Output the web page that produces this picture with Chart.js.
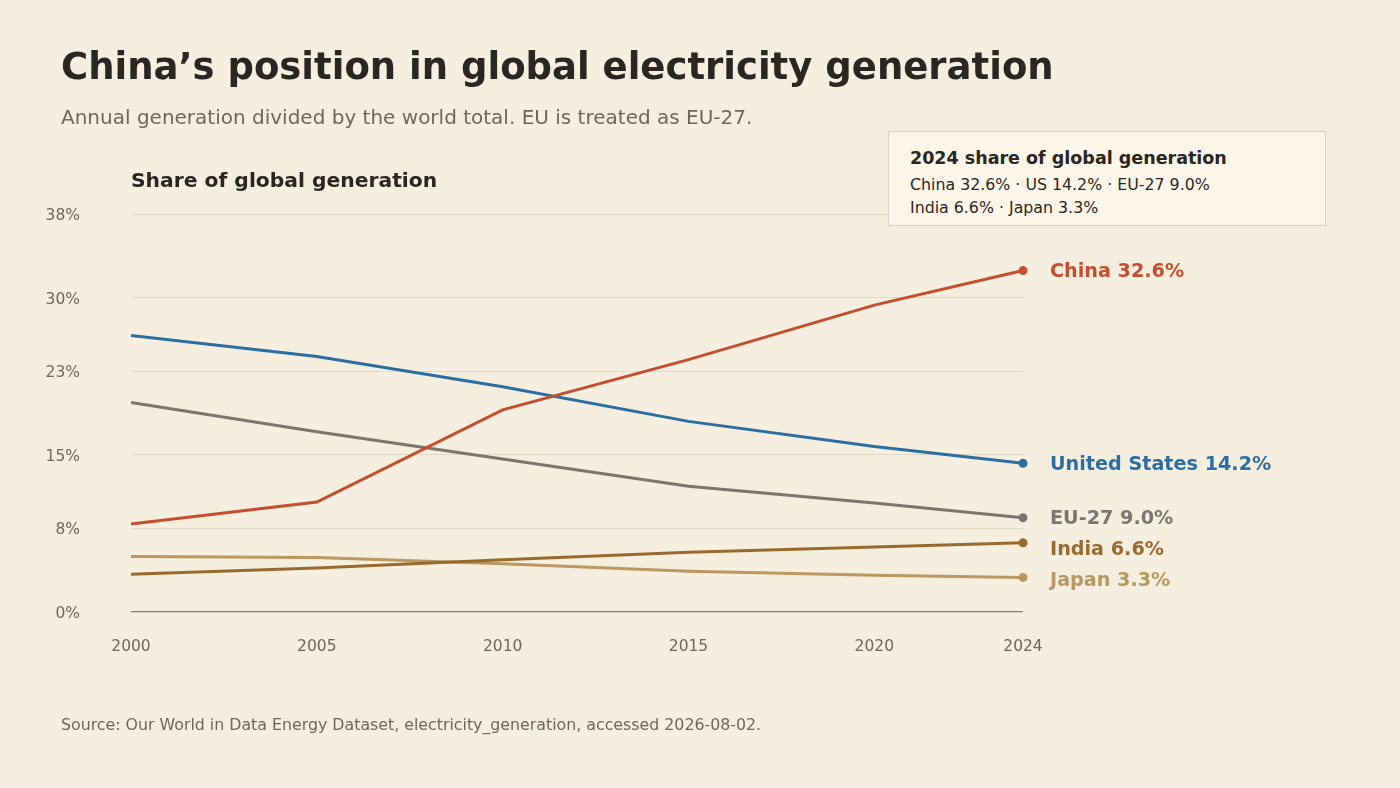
<!DOCTYPE html>
<html>
<head>
<meta charset="utf-8">
<script src="https://cdn.jsdelivr.net/npm/chart.js@4.4.1/dist/chart.umd.min.js"></script>
<style>
  html, body { margin: 0; padding: 0; background: #f6efdf; }
  body { width: 1400px; height: 788px; position: relative; overflow: hidden; font-family: "DejaVu Sans", sans-serif; }
  #c { position: absolute; left: 0; top: 0; }
  .t { position: absolute; white-space: nowrap; line-height: 1.2; }
  #title { left: 61px; top: 45px; font-size: 37px; font-weight: bold; color: #2a2622; }
  #subtitle { left: 61px; top: 105px; font-size: 20px; color: #6e665b; }
  #ytitle { left: 131px; top: 168px; font-size: 20.3px; font-weight: bold; color: #2a2622; }
  #source { left: 61px; top: 715.5px; font-size: 15.8px; color: #6e665b; }
  #box { position: absolute; left: 888px; top: 131px; width: 436px; height: 93px; background: #fdf6e8; border: 1px solid #dcd2c0; }
  #box .bt { position: absolute; left: 21px; top: 15.5px; font-size: 17.5px; font-weight: bold; color: #2a2622; white-space: nowrap; line-height: 1.2; }
  #box .bl { position: absolute; left: 21px; font-size: 15.8px; color: #2a2622; white-space: nowrap; line-height: 1.2; }
</style>
</head>
<body>
<canvas id="c" width="1400" height="788"></canvas>
<div class="t" id="title">China’s position in global electricity generation</div>
<div class="t" id="subtitle">Annual generation divided by the world total. EU is treated as EU-27.</div>
<div class="t" id="ytitle">Share of global generation</div>
<div class="t" id="source">Source: Our World in Data Energy Dataset, electricity_generation, accessed 2026-08-02.</div>
<div id="box">
  <div class="bt">2024 share of global generation</div>
  <div class="bl" style="top:43.5px">China 32.6% · US 14.2% · EU-27 9.0%</div>
  <div class="bl" style="top:66.5px">India 6.6% · Japan 3.3%</div>
</div>
<script>
// ---- data ----
const years = [2000, 2005, 2010, 2015, 2020, 2024];
const china = [8.4, 10.5, 19.3, 24.1, 29.3, 32.6];
const unitedStates = [26.4, 24.4, 21.5, 18.2, 15.8, 14.2];
const eu27 = [20.0, 17.2, 14.6, 12.0, 10.4, 9.0];
const india = [3.6, 4.2, 5.0, 5.7, 6.2, 6.6];
const japan = [5.3, 5.2, 4.6, 3.9, 3.5, 3.3];
const yTicks = [0, 8, 15, 23, 30, 38];
const xTicks = [2000, 2005, 2010, 2015, 2020, 2024];
const seriesNames = ["China", "United States", "EU-27", "India", "Japan"];
const seriesColors = ["#c44e2e", "#2d6ea2", "#7b7770", "#9a6a2d", "#b9975f"];
const seriesValues = [china, unitedStates, eu27, india, japan];

const FONT = "'DejaVu Sans', sans-serif";
const lastIdx = years.length - 1;

const datasets = seriesNames.map((name, i) => ({
  label: name,
  data: years.map((y, j) => ({ x: y, y: seriesValues[i][j] })),
  borderColor: seriesColors[i],
  backgroundColor: seriesColors[i],
  borderWidth: 3,
  tension: 0,
  pointRadius: ctx => ctx.dataIndex === lastIdx ? 4.5 : 0,
  pointHoverRadius: ctx => ctx.dataIndex === lastIdx ? 4.5 : 0,
  pointBorderWidth: 0,
  clip: false
}));

const endLabels = {
  id: 'endLabels',
  afterDatasetsDraw(chart) {
    const ctx = chart.ctx;
    const ys = chart.scales.y;
    const xs = chart.scales.x;
    const items = seriesNames.map((n, i) => ({
      text: n + ' ' + seriesValues[i][lastIdx].toFixed(1) + '%',
      color: seriesColors[i],
      y: ys.getPixelForValue(seriesValues[i][lastIdx])
    })).sort((a, b) => a.y - b.y);
    const gap = 31;
    for (let k = 1; k < items.length; k++) {
      if (items[k].y < items[k - 1].y + gap) items[k].y = items[k - 1].y + gap;
    }
    ctx.save();
    ctx.font = 'bold 19.2px ' + FONT;
    ctx.textBaseline = 'middle';
    ctx.textAlign = 'left';
    const x0 = xs.getPixelForValue(xTicks[xTicks.length - 1]) + 27;
    items.forEach(it => {
      ctx.fillStyle = it.color;
      ctx.fillText(it.text, x0, it.y + 1.5);
    });
    ctx.restore();
  }
};

new Chart(document.getElementById('c'), {
  type: 'line',
  data: { datasets },
  options: {
    responsive: false,
    animation: false,
    events: [],
    layout: { padding: { left: 0, top: 214, right: 377, bottom: 0 } },
    plugins: { legend: { display: false }, tooltip: { enabled: false } },
    scales: {
      x: {
        type: 'linear',
        min: 2000, max: 2024,
        afterBuildTicks: s => { s.ticks = xTicks.map(v => ({ value: v })); },
        afterFit: s => { s.height = 176; },
        grid: { display: false, drawTicks: false },
        border: { display: false },
        ticks: {
          padding: 26,
          maxRotation: 0,
          autoSkip: false,
          color: '#6e665b',
          font: { family: FONT, size: 15.5 },
          callback: v => String(v)
        }
      },
      y: {
        min: 0, max: 38,
        afterBuildTicks: s => { s.ticks = yTicks.map(v => ({ value: v })); },
        afterFit: s => { s.width = 131; },
        grid: {
          drawTicks: false,
          color: ctx => ctx.tick && ctx.tick.value === 0 ? '#8a7f72' : '#e2d8c6',
          lineWidth: ctx => ctx.tick && ctx.tick.value === 0 ? 1.3 : 1
        },
        border: { display: false },
        ticks: {
          padding: 51,
          labelOffset: 2,
          color: '#6e665b',
          font: { family: FONT, size: 15.5 },
          callback: v => v + '%'
        }
      }
    }
  },
  plugins: [endLabels]
});
</script>
</body>
</html>
